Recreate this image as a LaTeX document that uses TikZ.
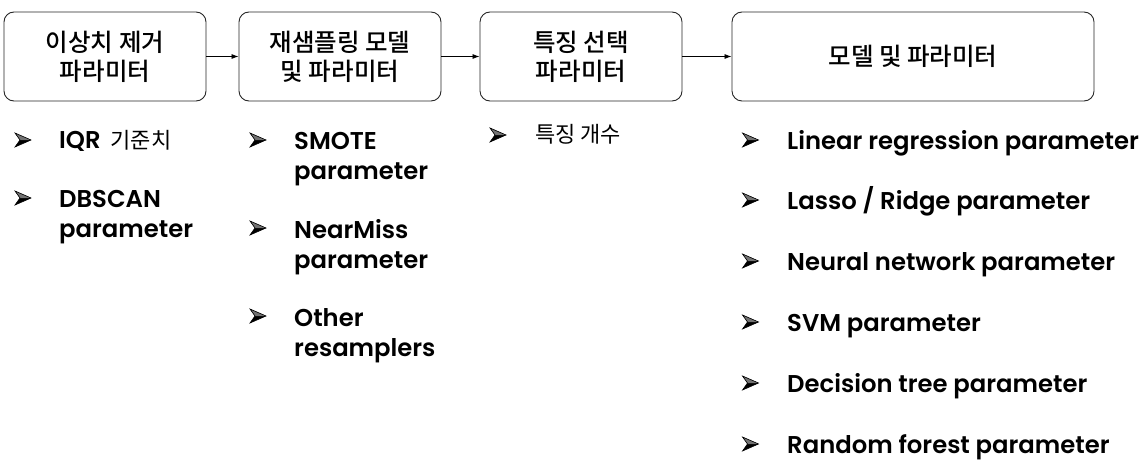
\documentclass[tikz,border=0pt]{standalone}
\usepackage{fontspec}
\usetikzlibrary{arrows.meta}
\newfontfamily\kofont{Noto Sans CJK KR Medium}
\newfontfamily\kofontr{Noto Sans CJK KR}
\newfontfamily\enfont{Poppins SemiBold}
\begin{document}
\begin{tikzpicture}[x=1pt,y=-1pt,
  boxnode/.style={draw=black!85,line width=0.9pt,rounded corners=10pt,minimum height=89pt,inner sep=0pt,align=center,font=\kofont\fontsize{24.5}{29}\selectfont},
  flow/.style={-{Latex[length=7pt,width=5pt]},line width=0.8pt},
  itm/.style={anchor=base west,inner sep=0pt,align=left,font=\enfont\fontsize{24.3}{30}\selectfont},
  kitm/.style={anchor=west,inner sep=0pt,align=left,font=\kofontr\fontsize{22}{24}\selectfont},
  pics/arrowbullet/.style={code={
    \fill[black] (-8,-7) -- (8,0) -- (-8,7) -- (-3,0) -- cycle;
    \fill[black!55] (-8,-7) -- (8,0) -- (-3,0) -- cycle;
    \draw[black,line width=0.6pt,line join=miter] (-8,-7) -- (8,0) -- (-8,7) -- (-3,0) -- cycle;}}]
\useasboundingbox (0,0) rectangle (1147,468);
\node[boxnode,minimum width=202pt] (b1) at (105,56.5) {이상치 제거\\파라미터};
\node[boxnode,minimum width=202pt] (b2) at (340,56.5) {재샘플링 모델\\및 파라미터};
\node[boxnode,minimum width=202pt] (b3) at (581,56.5) {특징 선택\\파라미터};
\node[boxnode,minimum width=362pt] (b4) at (913,56.5) {모델 및 파라미터};
\draw[flow] (b1) -- (b2);
\draw[flow] (b2) -- (b3);
\draw[flow] (b3) -- (b4);
% column 1
\pic (c1a) at (23,140) {arrowbullet};
\node[itm] (t1a) at (59,148.5) {IQR\hspace{10pt}{\kofontr\fontsize{22}{24}\selectfont 기준치}};
\pic (c1b) at (23,198) {arrowbullet};
\node[itm,anchor=north west] (t1b) at (59,190) {DBSCAN\\parameter};
% column 2
\pic (c2a) at (258,140) {arrowbullet};
\node[itm,anchor=north west] (t2a) at (294,132) {SMOTE\\parameter};
\pic (c2b) at (258,228) {arrowbullet};
\node[itm,anchor=north west] (t2b) at (294,219) {NearMiss\\parameter};
\pic (c2c) at (258,316) {arrowbullet};
\node[itm,anchor=north west] (t2c) at (294,308) {Other\\resamplers};
% column 3
\pic (c3a) at (498,135) {arrowbullet};
\node[kitm] (t3a) at (535,134) {특징 개수};
% column 4
\foreach \i/\yy/\tx in {1/140/{Linear regression parameter},2/200/{Lasso / Ridge parameter},3/261/{Neural network parameter},4/322/{SVM parameter},5/383/{Decision tree parameter},6/444/{Random forest parameter}}{
  \pic (c4\i) at (750.5,\yy) {arrowbullet};
  \node[itm] (t4\i) at (787,\yy+9) {\tx};
}
\end{tikzpicture}
\end{document}
